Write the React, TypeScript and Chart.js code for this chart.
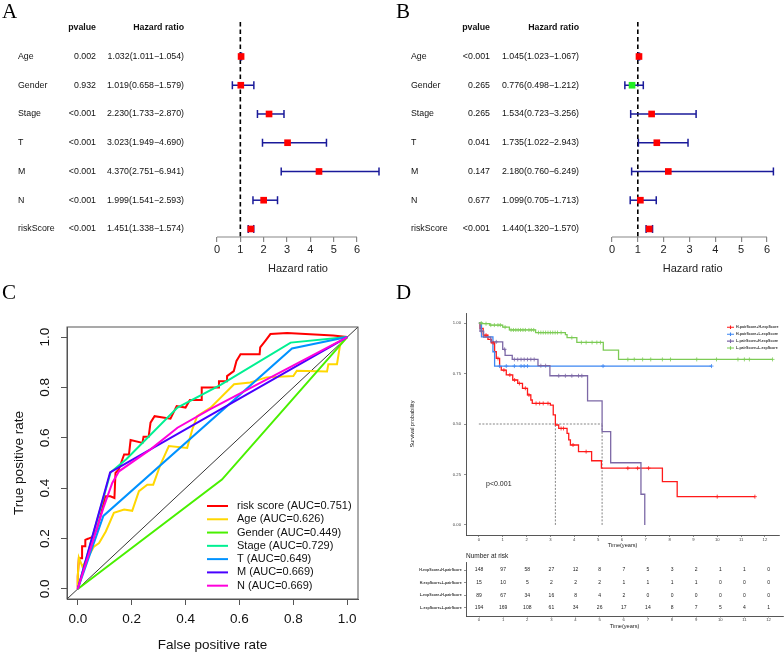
import React, { useEffect, useRef } from 'react';
import { Chart, registerables } from 'chart.js';

Chart.register(...registerables);

const FONT = '"Liberation Sans", Arial, Helvetica, sans-serif';
Chart.defaults.font.family = FONT;

// ---------------- Panels A & B : forest plots ----------------
const forestVars = ['Age', 'Gender', 'Stage', 'T', 'M', 'N', 'riskScore'];
const uniPvalues = ['0.002', '0.932', '<0.001', '<0.001', '<0.001', '<0.001', '<0.001'];
const uniHR = [1.032, 1.019, 2.23, 3.023, 4.37, 1.999, 1.451];
const uniLow = [1.011, 0.658, 1.733, 1.949, 2.751, 1.541, 1.338];
const uniHigh = [1.054, 1.579, 2.87, 4.69, 6.941, 2.593, 1.574];
const multiPvalues = ['<0.001', '0.265', '0.265', '0.041', '0.147', '0.677', '<0.001'];
const multiHR = [1.045, 0.776, 1.534, 1.735, 2.18, 1.099, 1.44];
const multiLow = [1.023, 0.498, 0.723, 1.022, 0.76, 0.705, 1.32];
const multiHigh = [1.067, 1.212, 3.256, 2.943, 6.249, 1.713, 1.57];
const hrTicks = [0, 1, 2, 3, 4, 5, 6];

// ---------------- Panel C : ROC curves ----------------
const rocLabels = ['risk score (AUC=0.751)', 'Age (AUC=0.626)', 'Gender (AUC=0.449)', 'Stage (AUC=0.729)', 'T (AUC=0.649)', 'M (AUC=0.669)', 'N (AUC=0.669)'];
const rocRisk = [[0, 0], [0, 0.049], [0.004, 0.122], [0.016, 0.122], [0.016, 0.169], [0.028, 0.169], [0.028, 0.195], [0.04, 0.2], [0.053, 0.206], [0.07, 0.235], [0.084, 0.288], [0.096, 0.341], [0.102, 0.368], [0.121, 0.368], [0.136, 0.361], [0.14, 0.461], [0.152, 0.474], [0.172, 0.534], [0.19, 0.534], [0.196, 0.591], [0.24, 0.58], [0.244, 0.604], [0.263, 0.604], [0.27, 0.66], [0.285, 0.686], [0.344, 0.676], [0.367, 0.726], [0.4, 0.72], [0.416, 0.75], [0.46, 0.75], [0.46, 0.8], [0.524, 0.8], [0.524, 0.825], [0.554, 0.825], [0.554, 0.845], [0.579, 0.865], [0.589, 0.905], [0.604, 0.932], [0.675, 0.932], [0.677, 0.959], [0.696, 0.985], [0.715, 1.012], [0.777, 1.016], [0.948, 1.006], [1, 1]];
const rocAge = [[0, 0], [0, 0.049], [0.004, 0.124], [0.017, 0.089], [0.036, 0.122], [0.06, 0.168], [0.079, 0.182], [0.104, 0.228], [0.134, 0.302], [0.172, 0.315], [0.202, 0.31], [0.227, 0.388], [0.258, 0.414], [0.28, 0.414], [0.307, 0.494], [0.338, 0.567], [0.406, 0.56], [0.425, 0.633], [0.443, 0.686], [0.493, 0.72], [0.58, 0.813], [0.64, 0.82], [0.7, 0.84], [0.8, 0.845], [0.813, 0.866], [0.925, 0.863], [0.93, 0.892], [0.962, 0.892], [0.974, 0.972], [1, 1]];
const rocGender = [[0, 0], [0.535, 0.434], [1, 1]];
const rocStage = [[0, 0], [0.122, 0.463], [0.18, 0.515], [0.37, 0.72], [0.53, 0.81], [0.79, 0.978], [1, 1]];
const rocT = [[0, 0], [0.095, 0.29], [0.795, 0.955], [1, 1]];
const rocM = [[0, 0], [0.12, 0.463], [1, 1]];
const rocN = [[0, 0], [0.097, 0.328], [0.128, 0.421], [0.153, 0.467], [0.27, 0.554], [0.37, 0.64], [0.49, 0.713], [1, 1]];
const rocDiagonal = [[-0.04, -0.04], [1.04, 1.04]];
const rocTicks = [0, 0.2, 0.4, 0.6, 0.8, 1.0];
const rocColors = ['#FF0000', '#FFD700', '#49F000', '#00F092', '#0092FF', '#4900FF', '#FF00DB'];

// ---------------- Panel D : Kaplan-Meier ----------------
const kmLegendLabels = ['H-pairScore+H-expScore', 'H-pairScore+L-expScore', 'L-pairScore+H-expScore', 'L-pairScore+L-expScore'];
const kmHH = [[0, 1], [0.05, 0.974], [0.18, 0.94], [0.38, 0.919], [0.52, 0.902], [0.66, 0.858], [0.73, 0.825], [0.87, 0.784], [0.94, 0.767], [1.15, 0.743], [1.42, 0.718], [1.63, 0.701], [1.83, 0.677], [2.04, 0.644], [2.18, 0.619], [2.24, 0.602], [3.0, 0.594], [3.12, 0.545], [3.21, 0.495], [3.35, 0.478], [3.7, 0.454], [3.77, 0.421], [3.84, 0.396], [4.18, 0.363], [4.73, 0.318], [5.14, 0.281], [7.7, 0.214], [8.32, 0.14], [11.58, 0.14]];
const kmHL = [[0, 1], [0.11, 0.932], [0.59, 0.858], [0.66, 0.787], [9.76, 0.787]];
const kmLH = [[0, 1], [0.05, 0.96], [0.2, 0.93], [0.5, 0.907], [1.0, 0.87], [1.1, 0.84], [1.4, 0.82], [2.48, 0.789], [2.98, 0.739], [4.56, 0.615], [5.17, 0.462], [5.53, 0.308], [6.8, 0.152], [6.96, 0]];
const kmLL = [[0, 1], [0.15, 0.997], [0.46, 0.99], [1.0, 0.98], [1.28, 0.966], [2.38, 0.953], [3.63, 0.943], [3.7, 0.928], [4.11, 0.904], [5.22, 0.866], [5.86, 0.82], [12.32, 0.82]];
const censorHH = [0.3, 0.6, 0.8, 1.05, 1.3, 1.5, 1.7, 1.95, 2.1, 2.4, 2.55, 2.7, 2.9, 3.45, 3.55, 3.95, 4.5, 6.25, 6.66, 7.12, 10.0, 11.58];
const censorHL = [0.87, 1.15, 1.49, 1.77, 1.9, 2.04, 5.21, 9.76];
const censorLH = [0.1, 0.73, 1.08, 1.49, 1.63, 1.77, 1.9, 2.04, 2.18, 2.32, 2.6, 2.8, 3.35, 3.63, 3.9, 4.18, 4.32];
const censorLL = [0.1, 0.3, 0.5, 0.65, 0.8, 0.9, 1.1, 1.35, 1.45, 1.55, 1.65, 1.75, 1.85, 1.95, 2.1, 2.2, 2.3, 2.5, 2.6, 2.7, 2.8, 2.9, 3.0, 3.1, 3.2, 3.3, 3.45, 3.9, 4.3, 4.5, 4.75, 4.95, 5.1, 6.25, 6.52, 6.87, 7.21, 7.7, 8.04, 9.14, 9.97, 10.87, 11.14, 11.35, 12.32];
const kmMedians = [3.21, 5.17];
const kmTimeTicks = [0, 1, 2, 3, 4, 5, 6, 7, 8, 9, 10, 11, 12];
const kmSurvTicks = [0, 0.25, 0.5, 0.75, 1];
const kmColors = ['#FF1A1A', '#3D86F2', '#7C68A6', '#7CCB55'];

// risk table
const riskRowLabels = ['H-expScore+H-pairScore', 'H-expScore+L-pairScore', 'L-expScore+H-pairScore', 'L-expScore+L-pairScore'];
const riskHH = [148, 97, 58, 27, 12, 8, 7, 5, 3, 2, 1, 1, 0];
const riskHL = [15, 10, 5, 2, 2, 2, 1, 1, 1, 1, 0, 0, 0];
const riskLH = [89, 67, 34, 16, 8, 4, 2, 0, 0, 0, 0, 0, 0];
const riskLL = [194, 169, 108, 61, 34, 26, 17, 14, 8, 7, 5, 4, 1];

const NAVY = '#1a1a9a';

function fixedTicks(vals: number[]) {
  return (s: any) => {
    s.ticks = vals.map((v) => ({ value: v }));
  };
}

function survAt(curve: number[][], t: number) {
  let s = curve[0][1];
  for (const [tt, ss] of curve) if (tt <= t) s = ss;
  return s;
}

const baseOpts = {
  responsive: false,
  maintainAspectRatio: false,
  animation: false as const,
  events: [] as any[],
};

function makeForest(pv: string[], hr: number[], lo: number[], hi: number[], L: { labelX: number; pvRight: number; hrRight: number; padLeft: number; padRight: number }) {
  const xMax = Math.max(...hi);
  const hrText = hr.map((h, i) => `${h.toFixed(3)}(${lo[i].toFixed(3)}\u2212${hi[i].toFixed(3)})`);
  const rows = forestVars.map((_, i) => i + 1);
  const datasets: any[] = [
    { type: 'line', data: [{ x: 1, y: -0.2 }, { x: 1, y: 7.28 }], borderColor: '#000', borderWidth: 1.6, borderDash: [4.5, 3], pointRadius: 0, order: 3 },
    ...rows.map((r, i) => ({
      type: 'line', data: [{ x: lo[i], y: r }, { x: hi[i], y: r }], borderColor: NAVY, borderWidth: 1.5,
      pointStyle: 'line', pointRotation: 90, pointRadius: 4, pointBorderColor: NAVY, pointBorderWidth: 1.5, clip: false, order: 2,
    })),
    {
      type: 'scatter', data: rows.map((r, i) => ({ x: hr[i], y: r })), pointStyle: 'rect', pointRadius: 4.7,
      pointBackgroundColor: hr.map((h) => (h < 1 ? '#22EE22' : '#FF0000')), pointBorderWidth: 0, pointBorderColor: 'rgba(0,0,0,0)', clip: false, order: 1,
    },
  ];
  const textPlugin = {
    id: 'forestText',
    afterDraw(chart: any) {
      const { ctx, chartArea } = chart;
      const x = chart.scales.x;
      const y = chart.scales.y;
      ctx.save();
      // axis line from first to last tick
      ctx.strokeStyle = '#888';
      ctx.lineWidth = 1.2;
      ctx.beginPath();
      ctx.moveTo(x.getPixelForValue(hrTicks[0]), chartArea.bottom);
      ctx.lineTo(x.getPixelForValue(hrTicks[hrTicks.length - 1]), chartArea.bottom);
      ctx.stroke();
      ctx.fillStyle = '#111';
      ctx.textBaseline = 'middle';
      ctx.font = `bold 8.8px ${FONT}`;
      ctx.textAlign = 'right';
      const hy = y.getPixelForValue(0);
      ctx.fillText('pvalue', L.pvRight, hy);
      ctx.fillText('Hazard ratio', L.hrRight, hy);
      ctx.font = `8.8px ${FONT}`;
      forestVars.forEach((v, i) => {
        const py = y.getPixelForValue(i + 1);
        ctx.textAlign = 'left';
        ctx.fillText(v, L.labelX, py);
        ctx.textAlign = 'right';
        ctx.fillText(pv[i], L.pvRight, py);
        ctx.fillText(hrText[i], L.hrRight, py);
      });
      ctx.restore();
    },
  };
  return {
    type: 'scatter',
    data: { datasets },
    options: {
      ...baseOpts,
      layout: { padding: { left: L.padLeft, right: L.padRight, top: 22, bottom: 0 } },
      plugins: { legend: { display: false }, tooltip: { enabled: false } },
      scales: {
        x: {
          type: 'linear', min: 0, max: xMax,
          afterBuildTicks: fixedTicks(hrTicks),
          afterFit: (s: any) => { s.height = 53; },
          border: { display: false },
          grid: { drawOnChartArea: false, drawTicks: true, tickLength: 5, color: '#888', lineWidth: 1.2 },
          ticks: { font: { size: 11 }, color: '#222', padding: 1, maxRotation: 0, autoSkip: false },
          title: { display: true, text: 'Hazard ratio', font: { size: 11 }, color: '#222', padding: { top: 0, bottom: 14 } },
        },
        y: { type: 'linear', display: false, reverse: true, min: -0.2, max: 7.28 },
      },
    },
    plugins: [textPlugin],
  };
}

function makeRoc() {
  const curves = [rocRisk, rocAge, rocGender, rocStage, rocT, rocM, rocN];
  const datasets: any[] = [
    { data: rocDiagonal.map(([x, y]) => ({ x, y })), showLine: true, borderColor: '#000', borderWidth: 0.8, pointRadius: 0, order: 20 },
    ...curves.map((c, i) => ({
      label: rocLabels[i], data: c.map(([x, y]) => ({ x, y })), showLine: true, borderColor: rocColors[i], borderWidth: 2,
      pointRadius: 0, tension: 0, order: 10 - i, clip: false,
    })),
  ];
  const deco = {
    id: 'rocDeco',
    afterDraw(chart: any) {
      const { ctx, chartArea } = chart;
      const y = chart.scales.y;
      ctx.save();
      ctx.strokeStyle = '#555';
      ctx.lineWidth = 1;
      ctx.strokeRect(chartArea.left, chartArea.top, chartArea.right - chartArea.left, chartArea.bottom - chartArea.top);
      ctx.fillStyle = '#111';
      ctx.font = `13.5px ${FONT}`;
      ctx.textAlign = 'center';
      ctx.textBaseline = 'middle';
      rocTicks.forEach((v) => {
        ctx.save();
        ctx.translate(45, y.getPixelForValue(v));
        ctx.rotate(-Math.PI / 2);
        ctx.fillText(v.toFixed(1), 0, 0);
        ctx.restore();
      });
      ctx.font = `11px ${FONT}`;
      ctx.textAlign = 'left';
      rocLabels.forEach((lab, i) => {
        const ly = 206 + i * 13.28;
        ctx.strokeStyle = rocColors[i];
        ctx.lineWidth = 2;
        ctx.beginPath();
        ctx.moveTo(207, ly);
        ctx.lineTo(228, ly);
        ctx.stroke();
        ctx.fillStyle = '#111';
        ctx.fillText(lab, 237, ly);
      });
      ctx.restore();
    },
  };
  return {
    type: 'scatter',
    data: { datasets },
    options: {
      ...baseOpts,
      layout: { padding: { left: 0, right: 34, top: 27, bottom: 0 } },
      plugins: { legend: { display: false }, tooltip: { enabled: false } },
      scales: {
        x: {
          type: 'linear', min: -0.04, max: 1.04,
          afterBuildTicks: fixedTicks(rocTicks),
          afterFit: (s: any) => { s.height = 54; },
          border: { display: true, color: '#555', width: 1 },
          grid: { drawOnChartArea: false, tickLength: 6, color: '#555' },
          ticks: { font: { size: 13.5 }, color: '#111', padding: 6, maxRotation: 0, autoSkip: false, callback: (v: any) => Number(v).toFixed(1) },
          title: { display: true, text: 'False positive rate', font: { size: 13.5 }, color: '#111', padding: { top: 0, bottom: 0 } },
        },
        y: {
          type: 'linear', min: -0.04, max: 1.04,
          afterBuildTicks: fixedTicks(rocTicks),
          afterFit: (s: any) => { s.width = 67; },
          border: { display: true, color: '#555', width: 1 },
          grid: { drawOnChartArea: false, tickLength: 6, color: '#555' },
          ticks: { padding: 0, autoSkip: false, callback: () => '' },
          title: { display: true, text: 'True positive rate', font: { size: 13.5 }, color: '#111', padding: { top: 11.4, bottom: 0 } },
        },
      },
    },
    plugins: [deco],
  };
}

function makeKm() {
  const curves = [kmHH, kmHL, kmLH, kmLL];
  const censors = [censorHH, censorHL, censorLH, censorLL];
  const medMax = Math.max(...kmMedians);
  const dashStyle = { showLine: true, borderColor: '#666', borderWidth: 0.8, borderDash: [2, 1.5], pointRadius: 0, order: 30 };
  const datasets: any[] = [
    { ...dashStyle, data: [{ x: 0, y: 0.5 }, { x: medMax, y: 0.5 }] },
    ...kmMedians.map((m) => ({ ...dashStyle, data: [{ x: m, y: 0 }, { x: m, y: 0.5 }] })),
    ...curves.map((c, i) => ({
      label: kmLegendLabels[i], data: c.map(([x, y]) => ({ x, y })), showLine: true, stepped: 'before',
      borderColor: kmColors[i], borderWidth: 1.3, pointRadius: 0, order: 10 - i,
    })),
    ...censors.map((cs, i) => ({
      data: cs.map((t) => ({ x: t, y: survAt(curves[i], t) })), pointStyle: 'cross', pointRadius: 2,
      pointBorderColor: kmColors[i], pointBorderWidth: 0.8, order: 5 - i,
    })),
  ];
  const deco = {
    id: 'kmDeco',
    afterDraw(chart: any) {
      const { ctx } = chart;
      const x = chart.scales.x;
      const y = chart.scales.y;
      ctx.save();
      ctx.textBaseline = 'middle';
      ctx.textAlign = 'left';
      kmLegendLabels.forEach((lab, i) => {
        const ly = 27.3 + i * 6.9;
        ctx.strokeStyle = kmColors[i];
        ctx.lineWidth = 1.1;
        ctx.beginPath();
        ctx.moveTo(327, ly);
        ctx.lineTo(334, ly);
        ctx.moveTo(330.5, ly - 1.8);
        ctx.lineTo(330.5, ly + 1.8);
        ctx.stroke();
        ctx.fillStyle = '#333';
        ctx.font = `bold 3.6px ${FONT}`;
        ctx.fillText(lab, 336, ly);
      });
      ctx.fillStyle = '#222';
      ctx.font = `7px ${FONT}`;
      ctx.fillText('p<0.001', x.getPixelForValue(0.3), y.getPixelForValue(0.2));
      ctx.restore();
    },
  };
  return {
    type: 'scatter',
    data: { datasets },
    options: {
      ...baseOpts,
      layout: { padding: { left: 0, right: 1, top: 13, bottom: 0 } },
      plugins: { legend: { display: false }, tooltip: { enabled: false } },
      scales: {
        x: {
          type: 'linear', min: -0.54, max: 12.6,
          afterBuildTicks: fixedTicks(kmTimeTicks),
          afterFit: (s: any) => { s.height = 18; },
          border: { display: true, color: '#444', width: 0.9 },
          grid: { drawOnChartArea: false, tickLength: 2, color: '#444', lineWidth: 0.6 },
          ticks: { font: { size: 4.2 }, color: '#444', padding: 0, maxRotation: 0, autoSkip: false },
          title: { display: true, text: 'Time(years)', font: { size: 5.6 }, color: '#222', padding: { top: 0, bottom: 4.6 } },
        },
        y: {
          type: 'linear', min: -0.05, max: 1.05,
          afterBuildTicks: fixedTicks(kmSurvTicks),
          afterFit: (s: any) => { s.width = 66; },
          border: { display: true, color: '#444', width: 0.9 },
          grid: { drawOnChartArea: false, tickLength: 2, color: '#444', lineWidth: 0.6 },
          ticks: { font: { size: 4.2 }, color: '#444', padding: 3, autoSkip: false, callback: (v: any) => Number(v).toFixed(2) },
          title: { display: true, text: 'Survival probability', font: { size: 5.6 }, color: '#222', padding: { top: 8.6, bottom: 0 } },
        },
      },
    },
    plugins: [deco],
  };
}

function makeRiskTable() {
  const rows = [riskHH, riskHL, riskLH, riskLL];
  const deco = {
    id: 'riskDeco',
    afterDraw(chart: any) {
      const { ctx, chartArea } = chart;
      const x = chart.scales.x;
      const y = chart.scales.y;
      ctx.save();
      ctx.fillStyle = '#222';
      ctx.textAlign = 'center';
      ctx.textBaseline = 'middle';
      ctx.font = `5px ${FONT}`;
      rows.forEach((row, r) => {
        row.forEach((n, i) => ctx.fillText(String(n), x.getPixelForValue(kmTimeTicks[i]), y.getPixelForValue(r + 1)));
      });
      ctx.font = `6.5px ${FONT}`;
      ctx.textAlign = 'left';
      ctx.fillText('Number at risk', chartArea.left, 8);
      ctx.restore();
    },
  };
  return {
    type: 'scatter',
    data: { datasets: [{ data: [] as any[], pointRadius: 0 }] },
    options: {
      ...baseOpts,
      layout: { padding: { left: 0, right: 1, top: 14.5, bottom: 0 } },
      plugins: { legend: { display: false }, tooltip: { enabled: false } },
      scales: {
        x: {
          type: 'linear', min: -0.54, max: 12.6,
          afterBuildTicks: fixedTicks(kmTimeTicks),
          afterFit: (s: any) => { s.height = 24; },
          border: { display: true, color: '#444', width: 0.9 },
          grid: { drawOnChartArea: false, tickLength: 1.5, color: '#444', lineWidth: 0.6 },
          ticks: { font: { size: 4.2 }, color: '#444', padding: 0, maxRotation: 0, autoSkip: false },
          title: { display: true, text: 'Time(years)', font: { size: 5.6 }, color: '#222', padding: { top: 0, bottom: 10.6 } },
        },
        y: {
          type: 'linear', reverse: true, min: 0.4, max: 4.65,
          afterBuildTicks: fixedTicks([1, 2, 3, 4]),
          afterFit: (s: any) => { s.width = 66; },
          border: { display: true, color: '#444', width: 0.9 },
          grid: { drawOnChartArea: false, tickLength: 2, color: '#444', lineWidth: 0.6 },
          ticks: { font: { size: 3.6, weight: 'bold' }, color: '#333', padding: 2.3, autoSkip: false, callback: (v: any) => riskRowLabels[Number(v) - 1] ?? '' },
        },
      },
    },
    plugins: [deco],
  };
}

function ChartCanvas(props: { left: number; top: number; width: number; height: number; make: () => any }) {
  const ref = useRef<HTMLCanvasElement | null>(null);
  useEffect(() => {
    if (!ref.current) return;
    const chart = new Chart(ref.current, props.make());
    return () => chart.destroy();
  }, []);
  return (
    <canvas
      ref={ref}
      width={props.width}
      height={props.height}
      style={{ position: 'absolute', left: props.left, top: props.top, width: props.width, height: props.height }}
    />
  );
}

const letter = (left: number, top: number): React.CSSProperties => ({
  position: 'absolute',
  left,
  top,
  fontFamily: '"Liberation Serif", "Times New Roman", serif',
  fontSize: 21,
  lineHeight: '21px',
  color: '#000',
});

export default function App() {
  useEffect(() => {
    document.body.style.margin = '0';
  }, []);
  return (
    <div style={{ position: 'relative', width: 784, height: 653, background: '#fff', overflow: 'hidden' }}>
      <style>{'body{margin:0;background:#fff}'}</style>
      <ChartCanvas left={0} top={0} width={392} height={290}
        make={() => makeForest(uniPvalues, uniHR, uniLow, uniHigh, { labelX: 18, pvRight: 96, hrRight: 184, padLeft: 217, padRight: 13 })} />
      <ChartCanvas left={392} top={0} width={392} height={290}
        make={() => makeForest(multiPvalues, multiHR, multiLow, multiHigh, { labelX: 19, pvRight: 98, hrRight: 187, padLeft: 220, padRight: 10.6 })} />
      <ChartCanvas left={0} top={300} width={392} height={353} make={makeRoc} />
      <ChartCanvas left={400} top={300} width={384} height={253} make={makeKm} />
      <ChartCanvas left={400} top={548} width={384} height={92} make={makeRiskTable} />
      <div style={letter(2, 1)}>A</div>
      <div style={letter(396, 1)}>B</div>
      <div style={letter(2, 282)}>C</div>
      <div style={letter(396, 282)}>D</div>
    </div>
  );
}
